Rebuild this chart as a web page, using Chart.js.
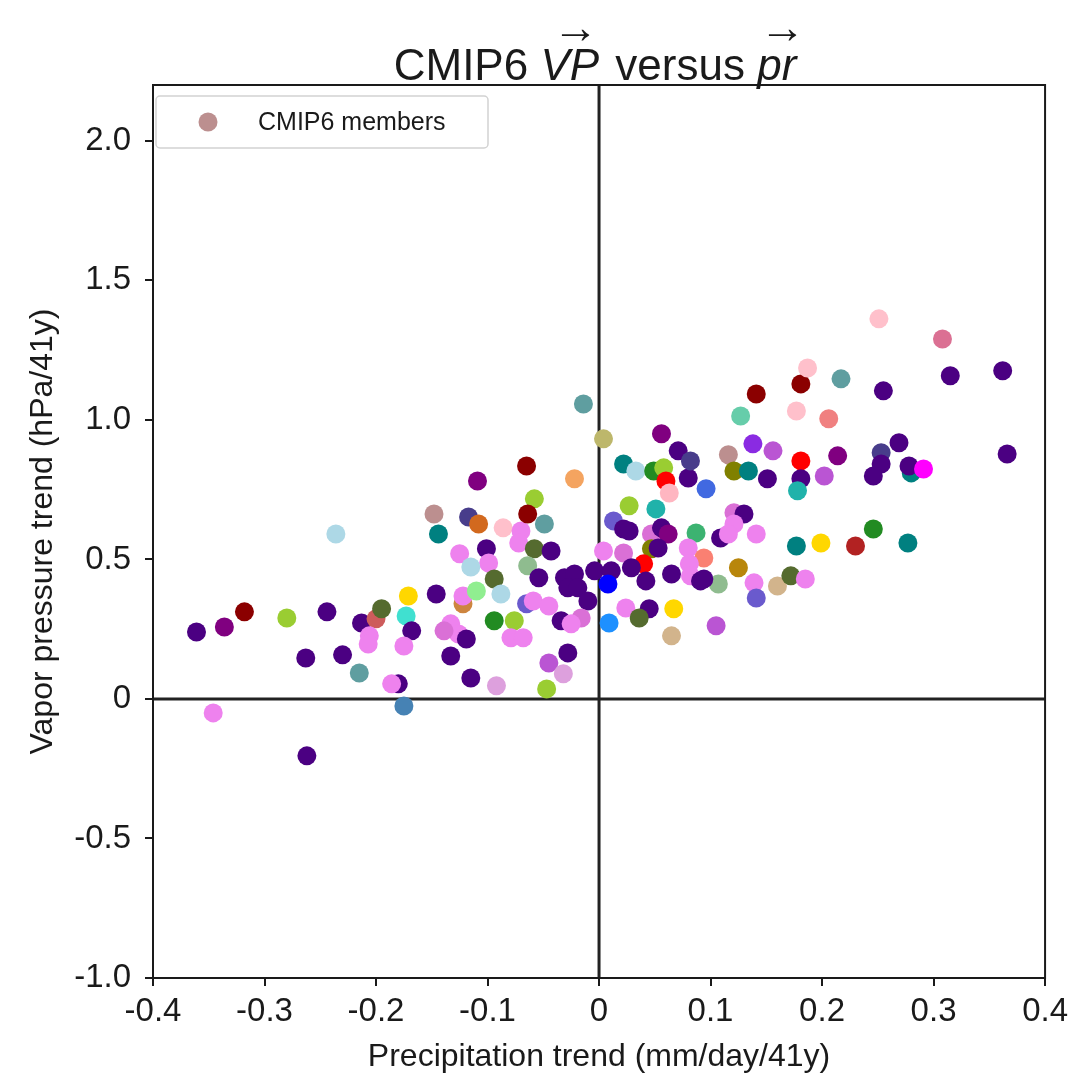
<!DOCTYPE html>
<html>
<head>
<meta charset="utf-8">
<script src="https://cdn.jsdelivr.net/npm/chart.js@4"></script>
<style>
  body { margin: 0; background: #fff; }
  #wrap { width: 1074px; height: 1081px; }
</style>
</head>
<body>
<div id="wrap"><canvas id="myChart"></canvas></div>
<script>
//values (precipitation trend, vapor pressure trend, member colour)
var xValues = [
  -0.361, -0.336, -0.318, -0.280, -0.244, -0.263, -0.230, -0.215, -0.346, -0.262,
  -0.236, -0.213, -0.200, -0.195, -0.206, -0.207,
  -0.171, -0.173, -0.168, -0.175, -0.180, -0.186, -0.175, -0.148, -0.144, -0.146,
  -0.117, -0.108, -0.109, -0.125, -0.101, -0.099, -0.115, -0.122, -0.122, -0.110,
  -0.133, -0.126, -0.139, -0.119, -0.133, -0.115, -0.094, -0.088, -0.094, -0.076,
  -0.079, -0.068, -0.092, -0.086,
  -0.070, -0.072, -0.058, -0.064, -0.065, -0.049, -0.058, -0.043, -0.064, -0.054,
  -0.031, -0.022, -0.022, -0.014, -0.065, -0.059, -0.045, -0.034, -0.028, -0.019,
  -0.010, -0.016, -0.025, -0.028, -0.045, -0.032, -0.047, -0.004,
  0.004, 0.004, 0.022, 0.013, 0.022, 0.027, 0.022, 0.033, 0.049, 0.058,
  0.060, 0.063, 0.080, 0.071, 0.056, 0.082, 0.096, 0.027, 0.051, 0.047,
  0.056, 0.062, 0.047, 0.053, 0.087, 0.080, 0.094, 0.081, 0.040, 0.011,
  0.029, 0.042, 0.065, 0.082, 0.091, 0.008, 0.024, 0.045, 0.036, 0.067,
  0.009, 0.065, 0.105, 0.107, 0.094,
  0.121, 0.130, 0.121, 0.109, 0.116, 0.141, 0.125, 0.139, 0.141, 0.160,
  0.172, 0.185, 0.177, 0.199, 0.138, 0.156, 0.116, 0.121, 0.134, 0.151,
  0.181, 0.181, 0.178, 0.202, 0.214, 0.127, 0.141, 0.177, 0.181, 0.187,
  0.206, 0.217,
  0.251, 0.308, 0.362, 0.315, 0.255, 0.253, 0.269, 0.253, 0.246, 0.280,
  0.278, 0.291, 0.366, 0.230, 0.246, 0.277
];
var yValues = [
  0.240, 0.258, 0.312, 0.290, 0.312, 0.147, 0.158, 0.093, -0.050, -0.204,
  0.591, 0.272, 0.287, 0.323, 0.226, 0.197,
  0.369, 0.297, 0.244, 0.190, 0.054, 0.054, -0.025, 0.663, 0.591, 0.376,
  0.652, 0.627, 0.781, 0.520, 0.538, 0.487, 0.473, 0.341, 0.369, 0.387,
  0.269, 0.233, 0.244, 0.215, 0.154, 0.075, 0.430, 0.376, 0.280, 0.280,
  0.219, 0.219, 0.047, 0.613,
  0.602, 0.559, 0.717, 0.663, 0.835, 0.627, 0.538, 0.530, 0.477, 0.434,
  0.434, 0.448, 0.789, 1.057, 0.341, 0.351, 0.333, 0.280, 0.398, 0.398,
  0.351, 0.290, 0.269, 0.165, 0.129, 0.090, 0.036, 0.459,
  0.932, 0.530, 0.523, 0.638, 0.609, 0.602, 0.842, 0.817, 0.817, 0.828,
  0.781, 0.738, 0.792, 0.889, 0.950, 0.853, 0.753, 0.692, 0.681, 0.591,
  0.613, 0.591, 0.538, 0.541, 0.595, 0.541, 0.505, 0.484, 0.484, 0.459,
  0.470, 0.423, 0.448, 0.441, 0.423, 0.412, 0.326, 0.323, 0.290, 0.323,
  0.272, 0.226, 0.262, 0.412, 0.430,
  0.667, 0.663, 0.627, 0.577, 0.591, 0.591, 0.470, 0.416, 0.362, 0.405,
  0.441, 0.430, 0.548, 0.559, 0.914, 0.889, 0.875, 0.817, 0.817, 0.789,
  0.853, 0.789, 0.746, 0.799, 0.871, 1.014, 1.093, 1.032, 1.129, 1.186,
  1.004, 1.147,
  1.362, 1.290, 1.176, 1.158, 1.104, 0.882, 0.918, 0.842, 0.799, 0.810,
  0.835, 0.824, 0.878, 0.548, 0.609, 0.559
];
var pointColors = [
  'indigo', 'purple', 'darkred', 'yellowgreen', 'indigo', 'indigo', 'indigo', 'cadetblue', 'violet', 'indigo',
  'lightblue', 'indigo', 'indianred', 'darkolivegreen', 'violet', 'violet',
  'gold', 'turquoise', 'indigo', 'violet', 'indigo', 'violet', 'steelblue', 'rosybrown', 'teal', 'indigo',
  'darkslateblue', 'chocolate', 'purple', 'violet', 'indigo', 'violet', 'lightblue', 'peru', 'violet', 'lightgreen',
  'violet', 'violet', 'orchid', 'indigo', 'indigo', 'indigo', 'darkolivegreen', 'lightblue', 'forestgreen', 'yellowgreen',
  'violet', 'violet', 'plum', 'pink',
  'violet', 'violet', 'yellowgreen', 'darkred', 'darkred', 'cadetblue', 'darkolivegreen', 'indigo', 'darkseagreen', 'indigo',
  'indigo', 'indigo', 'sandybrown', 'cadetblue', 'slateblue', 'violet', 'violet', 'indigo', 'indigo', 'indigo',
  'indigo', 'orchid', 'violet', 'indigo', 'mediumorchid', 'plum', 'yellowgreen', 'indigo',
  'darkkhaki', 'violet', 'orchid', 'slateblue', 'indigo', 'indigo', 'teal', 'lightblue', 'forestgreen', 'yellowgreen',
  'red', 'lightpink', 'indigo', 'indigo', 'purple', 'darkslateblue', 'royalblue', 'yellowgreen', 'lightseagreen', 'orchid',
  'indigo', 'purple', 'olive', 'indigo', 'mediumseagreen', 'violet', 'salmon', 'violet', 'red', 'indigo',
  'indigo', 'indigo', 'indigo', 'violet', 'indigo', 'blue', 'violet', 'indigo', 'darkolivegreen', 'gold',
  'dodgerblue', 'tan', 'mediumorchid', 'darkseagreen', 'indigo',
  'orchid', 'indigo', 'violet', 'indigo', 'violet', 'violet', 'darkgoldenrod', 'violet', 'slateblue', 'tan',
  'darkolivegreen', 'violet', 'teal', 'gold', 'blueviolet', 'mediumorchid', 'rosybrown', 'olive', 'teal', 'indigo',
  'red', 'indigo', 'lightseagreen', 'mediumorchid', 'purple', 'mediumaquamarine', 'darkred', 'pink', 'darkred', 'pink',
  'lightcoral', 'cadetblue',
  'pink', 'palevioletred', 'indigo', 'indigo', 'indigo', 'darkslateblue', 'indigo', 'indigo', 'indigo', 'teal',
  'indigo', 'magenta', 'indigo', 'firebrick', 'forestgreen', 'teal'
];
var xTicks = [-0.4, -0.3, -0.2, -0.1, 0, 0.1, 0.2, 0.3, 0.4];
var yTicks = [-1.0, -0.5, 0, 0.5, 1.0, 1.5, 2.0];

var FONT = '"Liberation Sans", Arial, sans-serif';
var INK = '#1a1a1a';

//build the point list for the scatter
var points = [];
for (var i = 0; i < xValues.length; i++) {
  points.push({x: xValues[i], y: yValues[i]});
}

function fmt(v) {
  var r = Math.round(v * 10) / 10;
  return r === 0 ? '0' : r.toFixed(1);
}

//frame, zero lines, title, axis titles and legend
var decor = {
  id: 'decor',
  beforeDatasetsDraw: function(chart) {
    var c = chart.ctx, a = chart.chartArea;
    var x0 = chart.scales.x.getPixelForValue(0);
    var y0 = chart.scales.y.getPixelForValue(0);
    c.save();
    c.strokeStyle = '#222';
    c.lineWidth = 3;
    c.beginPath();
    c.moveTo(x0, a.top); c.lineTo(x0, a.bottom);
    c.moveTo(a.left, y0); c.lineTo(a.right, y0);
    c.stroke();
    c.restore();
  },
  afterDatasetsDraw: function(chart) {
    var c = chart.ctx, a = chart.chartArea;
    c.save();
    c.strokeStyle = INK;
    c.lineWidth = 2;
    c.strokeRect(a.left, a.top, a.right - a.left, a.bottom - a.top);

    //legend box
    c.fillStyle = 'rgba(255,255,255,0.85)';
    c.strokeStyle = '#d2d2d2';
    c.lineWidth = 1.5;
    c.beginPath();
    c.roundRect(156, 96, 332, 52, 4);
    c.fill();
    c.stroke();
    c.fillStyle = 'rosybrown';
    c.beginPath();
    c.arc(208, 122, 9.5, 0, Math.PI * 2);
    c.fill();
    c.fillStyle = INK;
    c.font = '25px ' + FONT;
    c.textBaseline = 'middle';
    c.textAlign = 'left';
    c.fillText('CMIP6 members', 258, 123);

    //title with vector arrows over VP and pr
    var parts = [
      {t: 'CMIP6 ', it: false},
      {t: 'VP', it: true},
      {t: ' versus ', it: false},
      {t: 'pr', it: true}
    ];
    var size = 44;
    var total = 0;
    parts.forEach(function(p) {
      c.font = (p.it ? 'italic ' : '') + size + 'px ' + FONT;
      p.w = c.measureText(p.t).width + (p.it ? 4 : 0);
      total += p.w;
    });
    var px = 597 - total / 2;
    c.textBaseline = 'alphabetic';
    parts.forEach(function(p) {
      c.font = (p.it ? 'italic ' : '') + size + 'px ' + FONT;
      c.fillText(p.t, px, 80);
      if (p.it) {
        c.font = '46px ' + FONT;
        c.textAlign = 'center';
        c.fillText('\u2192', px + p.w / 2 + 4, 43);
        c.textAlign = 'left';
      }
      px += p.w;
    });

    //axis titles
    c.font = '32px ' + FONT;
    c.textAlign = 'center';
    c.textBaseline = 'alphabetic';
    c.fillText('Precipitation trend (mm/day/41y)', (a.left + a.right) / 2, 1066);
    c.translate(52, (a.top + a.bottom) / 2);
    c.rotate(-Math.PI / 2);
    c.fillText('Vapor pressure trend (hPa/41y)', 0, 0);
    c.restore();
  }
};

var ctx = document.getElementById('myChart').getContext('2d');
var chart = new Chart(ctx, {
  type: 'scatter',
  data: {
    datasets: [{
      label: 'CMIP6 members',
      data: points,
      backgroundColor: pointColors,
      borderWidth: 0,
      pointRadius: 9.5,
      pointHoverRadius: 9.5
    }]
  },
  options: {
    responsive: true,
    maintainAspectRatio: false,
    animation: false,
    layout: {padding: {top: 85, right: 28, left: 0, bottom: 0}},
    plugins: {
      legend: {display: false},
      tooltip: {enabled: false}
    },
    scales: {
      x: {
        type: 'linear',
        min: -0.4,
        max: 0.4,
        afterBuildTicks: function(s) { s.ticks = xTicks.map(function(v) { return {value: v}; }); },
        afterFit: function(s) { s.height = 103; },
        border: {display: false},
        grid: {drawOnChartArea: false, drawTicks: true, tickLength: 8, color: INK, lineWidth: 2},
        ticks: {
          color: INK,
          padding: 6,
          maxRotation: 0,
          font: {family: FONT, size: 33},
          callback: function(v) { return fmt(v); }
        }
      },
      y: {
        type: 'linear',
        min: -1.0,
        max: 2.2,
        afterBuildTicks: function(s) { s.ticks = yTicks.map(function(v) { return {value: v}; }); },
        afterFit: function(s) { s.width = 153; },
        border: {display: false},
        grid: {drawOnChartArea: false, drawTicks: true, tickLength: 8, color: INK, lineWidth: 2},
        ticks: {
          color: INK,
          padding: 14,
          font: {family: FONT, size: 33},
          callback: function(v) { return fmt(v); }
        }
      }
    }
  },
  plugins: [decor]
});
</script>
</body>
</html>
